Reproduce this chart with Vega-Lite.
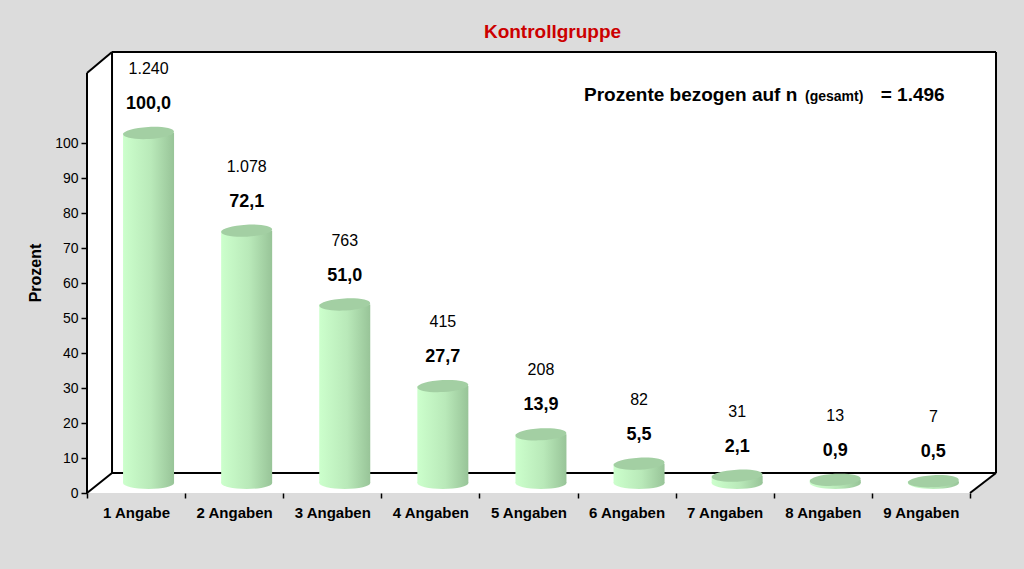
{
  "$schema": "https://vega.github.io/schema/vega-lite/v6.json",
  "width": 909,
  "height": 441,
  "autosize": "none",
  "padding": {"left": 87, "top": 52, "right": 28, "bottom": 76},
  "background": "#dcdcdc",
  "config": {"font": "Liberation Sans", "view": {"stroke": null}},
  "title": {
    "text": "Kontrollgruppe",
    "color": "#cc0000",
    "fontSize": 19,
    "fontWeight": "bold",
    "anchor": "middle",
    "frame": "group",
    "dx": 11,
    "offset": 9
  },
  "resolve": {"scale": {"x": "independent"}, "axis": {"y": "independent"}},
  "layer": [
    {
      "layer": [
        {
          "data": {"values": [
            {"x": 0, "ylo": 0, "yhi": 120},
            {"x": 0.255, "ylo": 0, "yhi": 126},
            {"x": 9, "ylo": 0, "yhi": 126},
            {"x": 9.265, "ylo": 5.71, "yhi": 126}
          ]},
          "mark": {"type": "area", "color": "white", "orient": "vertical"},
          "encoding": {
            "x": {"field": "x", "type": "quantitative", "scale": {"domain": [0, 9.265], "nice": false, "zero": false}, "axis": null},
            "y": {"field": "ylo", "type": "quantitative", "scale": {"domain": [0, 126], "nice": false}, "axis": null},
            "y2": {"field": "yhi"}
          }
        },
        {
          "data": {"values": [
            {"x": 0.255, "x2": 0.255, "y": 5.71, "y2": 126},
            {"x": 0.255, "x2": 9.265, "y": 126, "y2": 126},
            {"x": 9.265, "x2": 9.265, "y": 5.71, "y2": 126},
            {"x": 0.255, "x2": 9.265, "y": 5.71, "y2": 5.71},
            {"x": 0, "x2": 0.255, "y": 120, "y2": 126},
            {"x": 0, "x2": 0.255, "y": 0, "y2": 5.71},
            {"x": 0, "x2": 0, "y": 0, "y2": 120},
            {"x": 9, "x2": 9.265, "y": 0, "y2": 5.71}
          ]},
          "mark": {"type": "rule", "color": "black", "strokeWidth": 2},
          "encoding": {
            "x": {"field": "x", "type": "quantitative", "scale": {"domain": [0, 9.265], "nice": false, "zero": false}, "axis": null},
            "x2": {"field": "x2"},
            "y": {"field": "y", "type": "quantitative", "scale": {"domain": [0, 126], "nice": false}, "axis": null},
            "y2": {"field": "y2"}
          }
        },
        {
          "data": {"values": [
            {"t": "Prozente bezogen auf n", "x": 5.066, "y": 112.1, "part": "a"},
            {"t": "(gesamt)", "x": 7.318, "y": 112.1, "part": "b"},
            {"t": "= 1.496", "x": 8.09, "y": 112.1, "part": "c"}
          ]},
          "mark": {"type": "text", "align": "left", "baseline": "alphabetic", "fontWeight": "bold", "color": "black"},
          "encoding": {
            "x": {"field": "x", "type": "quantitative", "scale": {"domain": [0, 9.265], "nice": false, "zero": false}, "axis": null},
            "y": {"field": "y", "type": "quantitative", "scale": {"domain": [0, 126], "nice": false}, "axis": null},
            "text": {"field": "t"},
            "size": {"condition": {"test": "datum.part === 'b'", "value": 14}, "value": 19}
          }
        }
      ]
    },
    {
      "resolve": {"axis": {"y": "independent"}},
      "data": {"values": [
        {"cat": "1 Angabe", "pct": 100.0, "n": "1.240", "label": "100,0"},
        {"cat": "2 Angaben", "pct": 72.1, "n": "1.078", "label": "72,1"},
        {"cat": "3 Angaben", "pct": 51.0, "n": "763", "label": "51,0"},
        {"cat": "4 Angaben", "pct": 27.7, "n": "415", "label": "27,7"},
        {"cat": "5 Angaben", "pct": 13.9, "n": "208", "label": "13,9"},
        {"cat": "6 Angaben", "pct": 5.5, "n": "82", "label": "5,5"},
        {"cat": "7 Angaben", "pct": 2.1, "n": "31", "label": "2,1"},
        {"cat": "8 Angaben", "pct": 0.9, "n": "13", "label": "0,9"},
        {"cat": "9 Angaben", "pct": 0.5, "n": "7", "label": "0,5"}
      ]},
      "encoding": {
        "x": {
          "field": "cat", "type": "nominal", "sort": null, "title": null,
          "scale": {"paddingInner": 0, "paddingOuter": 0.133, "align": 0},
          "axis": {
            "domain": false, "tickBand": "extent", "ticks": true, "tickSize": 5, "tickColor": "black", "tickWidth": 1.5,
            "labelAngle": 0, "labelFontSize": 15, "labelFontWeight": "bold", "labelColor": "black", "labelPadding": 7
          }
        }
      },
      "layer": [
        {
          "mark": {
            "type": "point", "filled": true, "opacity": 1, "size": 2601, "xOffset": 12.5, "yOffset": -10,
            "shape": "M-1,0 A1,0.235 0 1,1 1,0 A1,0.235 0 1,1 -1,0 Z",
            "color": {"gradient": "linear", "x1": 0, "y1": 0, "x2": 1, "y2": 0,
              "stops": [{"offset": 0, "color": "#ccffcc"}, {"offset": 0.55, "color": "#b9e9b9"}, {"offset": 1, "color": "#98c498"}]}
          },
          "encoding": {
            "y": {"datum": 0, "type": "quantitative", "scale": {"domain": [0, 126], "nice": false}, "axis": null}
          }
        },
        {
          "mark": {
            "type": "bar", "width": 51, "xOffset": 12.5, "yOffset": -10, "y2Offset": -10,
            "color": {"gradient": "linear", "x1": 0, "y1": 0, "x2": 1, "y2": 0,
              "stops": [{"offset": 0, "color": "#ccffcc"}, {"offset": 0.55, "color": "#b9e9b9"}, {"offset": 1, "color": "#98c498"}]}
          },
          "encoding": {
            "y": {"field": "pct", "type": "quantitative", "scale": {"domain": [0, 126], "nice": false},
              "axis": {"values": [0, 10, 20, 30, 40, 50, 60, 70, 80, 90, 100], "domain": false, "grid": false, "tickSize": 6, "tickColor": "black", "tickWidth": 1.5,
                "labelFontSize": 14, "labelColor": "black", "labelPadding": 3,
                "title": "Prozent", "titleFontSize": 16, "titleFontWeight": "bold", "titleColor": "black", "titlePadding": 11}},
            "y2": {"datum": 0}
          }
        },
        {
          "mark": {
            "type": "point", "filled": true, "opacity": 1, "size": 2601, "xOffset": 12.5, "yOffset": -10, "angle": -3,
            "shape": "M-1,0 A1,0.235 0 1,1 1,0 A1,0.235 0 1,1 -1,0 Z",
            "color": "#a3cfa3"
          },
          "encoding": {"y": {"field": "pct", "type": "quantitative", "axis": null}}
        },
        {
          "mark": {"type": "text", "fontSize": 16, "color": "black", "baseline": "middle", "xOffset": 12.5, "yOffset": -74},
          "encoding": {"y": {"field": "pct", "type": "quantitative", "axis": null}, "text": {"field": "n"}}
        },
        {
          "mark": {"type": "text", "fontSize": 18, "fontWeight": "bold", "color": "black", "baseline": "middle", "xOffset": 12.5, "yOffset": -39},
          "encoding": {"y": {"field": "pct", "type": "quantitative", "axis": null}, "text": {"field": "label"}}
        }
      ]
    }
  ]
}
